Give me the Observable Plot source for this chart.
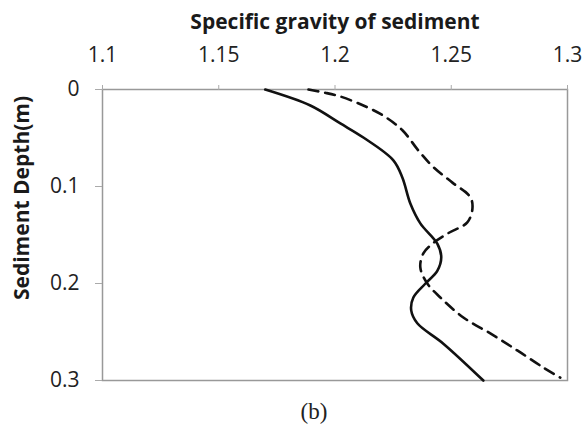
<!DOCTYPE html>
<html>
<head>
<meta charset="utf-8">
<script src="https://cdn.jsdelivr.net/npm/d3@7"></script>
<script src="https://cdn.jsdelivr.net/npm/@observablehq/plot@0.6"></script>
<style>
  html, body { margin: 0; padding: 0; background: #fff; overflow: hidden; }
  #wrap { position: relative; width: 585px; height: 395px; }
  #wrap svg { display: block; }
  #caption { text-align: center; font-family: "Liberation Serif", serif; font-size: 23px; line-height: 24px; color: #222; width: 585px; padding-left: 43px; box-sizing: border-box; margin-top: 5px; }
</style>
</head>
<body>
<div id="wrap"></div>
<div id="caption">(b)</div>
<script>
// Solid curve: specific gravity (x) vs depth (y, m)
const solidGravity = [1.170, 1.1894, 1.2023, 1.2122, 1.2251, 1.2290, 1.2324, 1.2367, 1.2440, 1.2457, 1.2440, 1.2389, 1.2337, 1.2328, 1.2354, 1.2466, 1.2638];
const solidDepth   = [0.000, 0.0165, 0.035, 0.0495, 0.073, 0.091, 0.1175, 0.138, 0.159, 0.173, 0.187, 0.200, 0.2144, 0.228, 0.241, 0.262, 0.300];
// Dashed curve
const dashedGravity = [1.1886, 1.1950, 1.2020, 1.2122, 1.2208, 1.2290, 1.2359, 1.2423, 1.2505, 1.2582, 1.2591, 1.2569, 1.2488, 1.2419, 1.2380, 1.2367, 1.2397, 1.2453, 1.2552, 1.2668, 1.2784, 1.2896, 1.2969];
const dashedDepth   = [0.000, 0.003, 0.007, 0.0165, 0.027, 0.042, 0.063, 0.080, 0.096, 0.111, 0.123, 0.137, 0.148, 0.159, 0.169, 0.1835, 0.200, 0.2144, 0.235, 0.2515, 0.269, 0.2866, 0.297];
const xTicks = [1.1, 1.15, 1.2, 1.25, 1.3];
const xTickLabels = ["1.1", "1.15", "1.2", "1.25", "1.3"];
const yTicks = [0, 0.1, 0.2, 0.3];
const yTickLabels = ["0", "0.1", "0.2", "0.3"];
const xTitle = "Specific gravity of sediment";
const yTitle = "Sediment Depth(m)";

const solid = solidGravity.map((g, i) => ({g, d: solidDepth[i]}));
const dashed = dashedGravity.map((g, i) => ({g, d: dashedDepth[i]}));

const font = '"Open Sans", "Liberation Sans", sans-serif';
const chart = Plot.plot({
  width: 585,
  height: 395,
  marginLeft: 102,
  marginRight: 18,
  marginTop: 89,
  marginBottom: 15,
  style: {fontFamily: font, fontSize: "21px", color: "#222", background: "#fff"},
  x: {domain: [1.1, 1.3]},
  y: {domain: [0, 0.3], reverse: true},
  marks: [
    Plot.frame({stroke: "#999", strokeWidth: 1.5}),
    Plot.axisX({anchor: "top", ticks: xTicks, tickFormat: (d, i) => xTickLabels[i], tickSize: 5, tickPadding: 23, stroke: "#aaa", fill: "#222", fontSize: 21, label: null}),
    Plot.axisY({anchor: "left", ticks: yTicks, tickFormat: (d, i) => yTickLabels[i], tickSize: 7, tickPadding: 16, stroke: "#aaa", fill: "#222", fontSize: 21, label: null}),
    Plot.text([xTitle], {frameAnchor: "top", lineAnchor: "middle", dy: -67, text: d => d, fontWeight: "bold", fontSize: 21, fill: "#1a1a1a"}),
    Plot.text([yTitle], {frameAnchor: "left", lineAnchor: "middle", textAnchor: "middle", dx: -80, dy: -37, rotate: -90, text: d => d, fontWeight: "bold", fontSize: 21, fill: "#1a1a1a"}),
    Plot.line(solid, {x: "g", y: "d", curve: "catmull-rom", stroke: "#111", strokeWidth: 2.6}),
    Plot.line(dashed, {x: "g", y: "d", curve: "catmull-rom", stroke: "#111", strokeWidth: 2.6, strokeDasharray: "10,7"})
  ]
});
document.getElementById("wrap").appendChild(chart);
</script>
</body>
</html>
